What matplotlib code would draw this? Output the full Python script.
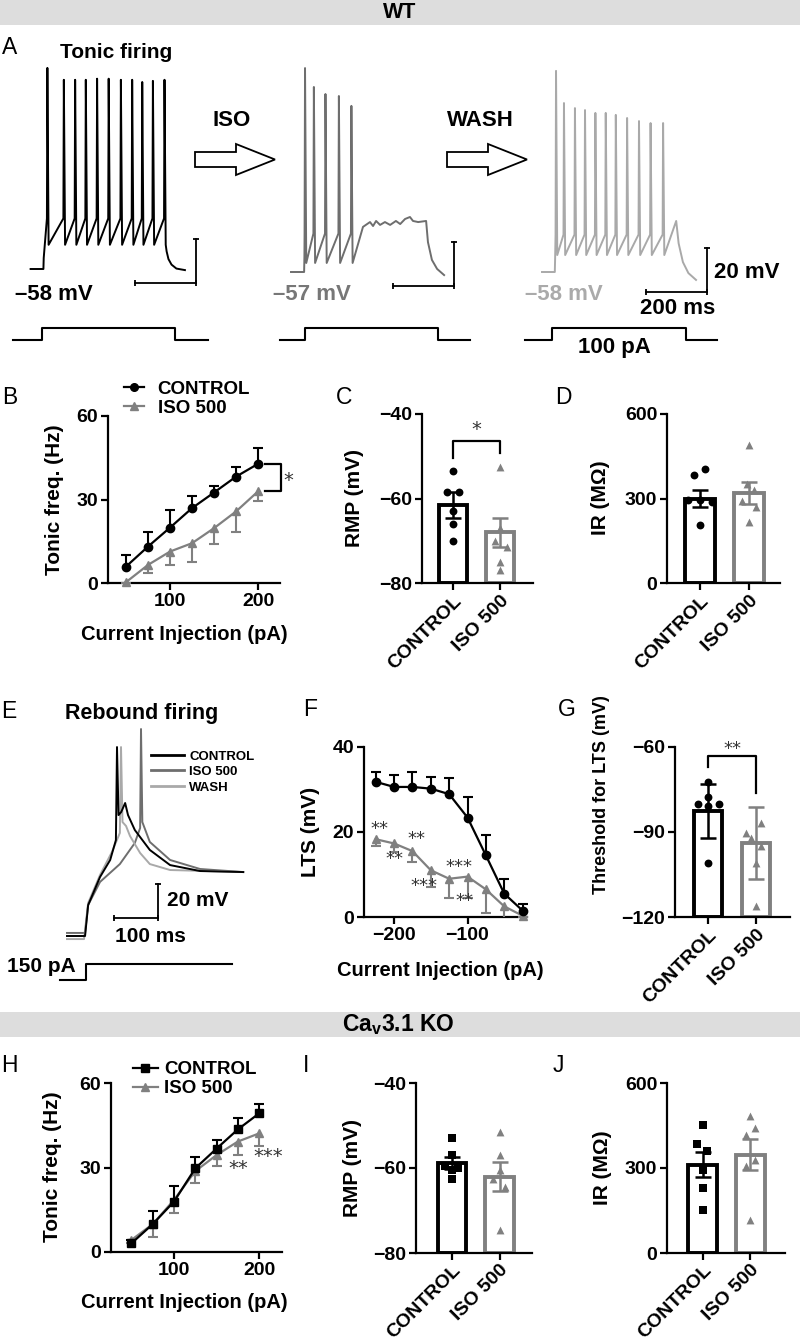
import matplotlib
matplotlib.use("Agg")
import matplotlib.pyplot as plt
import numpy as np
from matplotlib.lines import Line2D
from matplotlib.patches import FancyArrow, Rectangle

W, H = 800, 1340
BLACK = '#000000'
GRAY = '#808080'
TRACE_ISO = '#6e6e6e'
TRACE_WASH = '#a9a9a9'
STAR = '#333333'

plt.rcParams['font.family'] = ['Liberation Sans', 'DejaVu Sans']
plt.rcParams['font.weight'] = 'bold'
plt.rcParams['axes.linewidth'] = 1.6

# ---------------- A: tonic firing traces (ms / mV) ----------------
a_ctrl_spike_t = [55, 109, 146, 181, 218, 256, 296, 333, 366, 401, 439]
a_ctrl_spike_v = [33.4, 28, 28, 28, 28.5, 28.5, 28, 28, 27, 27.5, 28]
a_ctrl_tail_t = [446, 452, 462, 478, 506]
a_ctrl_tail_v = [-50, -53.5, -56, -57.8, -58.5]

a_iso_spike_t = [46, 75, 113, 157, 198]
a_iso_spike_v = [35.7, 27.1, 23.9, 23.0, 18.5]
a_iso_tail_t = [236, 259, 269, 279, 292, 308, 325, 344, 358, 374, 390, 400, 417, 443,
                449, 462, 479, 502]
a_iso_tail_v = [-36.5, -34.3, -36.1, -33.8, -35.6, -34.3, -35.6, -33.8, -35.2, -32.9,
                -32.0, -33.8, -34.3, -33.8, -43.4, -51.5, -55.6, -58.4]

a_wash_spike_t = [46, 72, 108, 141, 175, 209, 242, 279, 318, 356, 397]
a_wash_spike_v = [33.4, 18.8, 16.5, 15.6, 14.3, 14.3, 13.4, 12.0, 10.6, 9.7, 9.7]
a_wash_tail_t = [440, 448, 462, 480, 505]
a_wash_tail_v = [-34.8, -45, -53.5, -58.5, -61.6]

a_ctrl_step_t = [-58, 36, 474, 582]
a_iso_step_t = [-36, 46, 482, 587]
a_wash_step_t = [-56, 33, 472, 574]
a_step_pA = 100

# ---------------- B: WT tonic frequency ----------------
b_current = [50, 75, 100, 125, 150, 175, 200]
b_ctrl = [5.9, 13.1, 19.9, 26.9, 32.5, 38.2, 42.8]
b_ctrl_err = [4.0, 5.4, 6.4, 4.5, 2.5, 3.3, 5.7]
b_iso = [0.3, 6.5, 11.3, 14.3, 19.7, 25.7, 32.9]
b_iso_err = [0.3, 3.0, 5.0, 6.6, 5.7, 7.2, 3.6]

groups = ['CONTROL', 'ISO 500']

# ---------------- C: WT RMP ----------------
c_mean = [-61.5, -68.0]
c_sem = [3.0, 3.5]
c_ctrl_pts = [-53.5, -58.5, -58.5, -63, -66, -70]
c_iso_pts = [-52.5, -67, -70, -71.5, -75, -77]

# ---------------- D: WT IR ----------------
d_mean = [300, 320]
d_sem = [30, 40]
d_ctrl_pts = [383, 404, 295, 295, 289, 206]
d_iso_pts = [490, 352, 330, 290, 270, 218]

# ---------------- E: rebound firing traces (ms / mV) ----------------
e_ctrl_t = [0, 41, 48, 75, 98, 111, 113.5, 117, 123, 132, 138.5, 154, 188, 234, 302, 400]
e_ctrl_v = [-75, -75, -56.8, -40.3, -30.3, -18.6, 36.1, -3.9, -2.1, 3.2, -3.9, -12.7,
            -24.4, -33.3, -36.8, -37.4]
e_iso_t = [0, 41, 48, 75, 120, 154, 166, 168, 171, 188, 234, 302, 400]
e_iso_v = [-73.2, -73.2, -56.8, -43.2, -32.7, -20.3, -11.5, 46.7, -8, -19.7, -30.3, -35.6, -37.4]
e_wash_t = [0, 38.6, 48, 75, 102, 120, 122.6, 126, 134, 143, 166, 188, 234, 400]
e_wash_v = [-76.8, -76.8, -55.6, -39.1, -25.6, -14.4, 36.1, -8, -10.3, -16.2, -26.2,
            -32.7, -36.2, -37.4]
e_step_t = [-16, 43, 375]
e_step_pA = 150

# ---------------- F: LTS amplitude ----------------
f_current = [-225, -200, -175, -150, -125, -100, -75, -50, -25]
f_ctrl = [31.8, 30.6, 30.6, 30.2, 28.9, 23.4, 14.5, 5.5, 1.5]
f_ctrl_err = [2.3, 2.8, 3.5, 2.8, 3.7, 4.9, 4.8, 3.5, 1.5]
f_iso = [18.3, 17.3, 15.5, 11.0, 9.0, 9.5, 6.5, 2.5, 0.3]
f_iso_err = [1.5, 2.0, 2.5, 4.0, 4.5, 5.0, 5.5, 3.5, 0.3]
f_sig_x = [-220, -170, -200, -111, -160, -104]
f_sig_y = [20.6, 18.3, 13.6, 11.7, 7.2, 3.7]
f_sig_txt = ['**', '**', '**', '***', '***', '**']

# ---------------- G: LTS threshold ----------------
g_mean = [-82.5, -94.0]
g_sem = [9.5, 12.7]
g_ctrl_pts = [-72.5, -77.5, -80.2, -81, -80.2, -101]
g_iso_pts = [-86.8, -90.4, -92, -95, -101, -116]

# ---------------- H: KO tonic frequency ----------------
h_current = [50, 75, 100, 125, 150, 175, 200]
h_ctrl = [3.1, 9.9, 17.9, 29.7, 36.7, 43.5, 49.2]
h_ctrl_err = [1.0, 4.8, 5.5, 4.1, 3.1, 4.0, 3.3]
h_iso = [4.3, 9.9, 18.5, 28.7, 34.4, 39.2, 42.1]
h_iso_err = [1.0, 4.7, 4.8, 4.1, 3.8, 4.8, 4.4]

# ---------------- I: KO RMP ----------------
i_mean = [-58.8, -62.0]
i_sem = [1.5, 3.3]
i_ctrl_pts = [-53, -57, -59.5, -60, -60.5, -62.5]
i_iso_pts = [-51.5, -57, -60.5, -62.5, -64.5, -74.5]

# ---------------- J: KO IR ----------------
j_mean = [312, 347]
j_sem = [45, 55]
j_ctrl_pts = [453, 386, 359, 294, 229, 153]
j_iso_pts = [482, 441, 418, 329, 308, 115]


fig = plt.figure(figsize=(W / 100, H / 100), dpi=100)
lay = fig.add_axes([0, 0, 1, 1])
lay.set_xlim(0, W)
lay.set_ylim(H, 0)
lay.axis('off')


def px_axes(left, top, right, bottom):
    ax = fig.add_axes([left / W, 1 - bottom / H, (right - left) / W, (bottom - top) / H])
    ax.set_facecolor('none')
    return ax


def mapped_axes(left, top, right, bottom, x0, y0, t0, v0, t_per_px, v_per_px):
    ax = px_axes(left, top, right, bottom)
    ax.set_xlim(t0 + (left - x0) * t_per_px, t0 + (right - x0) * t_per_px)
    ax.set_ylim(v0 - (bottom - y0) * v_per_px, v0 + (y0 - top) * v_per_px)
    ax.axis('off')
    return ax


def txt(x, y, s, size=15, ha='left', color='k', weight='bold', rot=0, **kw):
    lay.text(x, y, s, fontsize=size, ha=ha, va='center', color=color,
             fontweight=weight, rotation=rot, **kw)


def stars(ax, x, y, s, size=14):
    ax.text(x, y, s, fontsize=size, fontweight='normal', family='DejaVu Sans',
            ha='center', va='center', color=STAR, clip_on=False)


def spike_trace(rest, t_on, v_on, spike_t, spike_v, thresh, trough, tail_t, tail_v):
    t = [0.0, t_on, t_on + 1.0]
    v = [rest, rest, v_on]
    for ts, vp in zip(spike_t, spike_v):
        t += [ts - 1.5, ts, ts + 4.0]
        v += [thresh, vp, trough]
    return t + list(tail_t), v + list(tail_v)


def scale_bar(ax, t_end, v_bot, dt, dv, lw=1.3):
    ax.plot([t_end - dt, t_end], [v_bot, v_bot], color='k', lw=lw, marker='|', ms=5, mew=lw)
    ax.plot([t_end, t_end], [v_bot, v_bot + dv], color='k', lw=lw)
    ax.plot([t_end], [v_bot + dv], color='k', marker='_', ms=5, mew=lw)


def step(ax, st, amp, color='k'):
    ax.plot([st[0], st[1], st[1], st[2], st[2], st[3]], [0, 0, amp, amp, 0, 0],
            color=color, lw=1.5)


def style_axes(ax):
    for s in ['top', 'right']:
        ax.spines[s].set_visible(False)
    ax.tick_params(width=1.6, length=5, labelsize=14, pad=2)


# ---------------- headers ----------------
lay.add_patch(Rectangle((0, 0), W, 25, color='#dddddd', lw=0))
lay.add_patch(Rectangle((0, 1012), W, 25, color='#dddddd', lw=0))
txt(400, 13, 'WT', size=15.5, ha='center')
txt(398, 1025, r'Ca$_\mathregular{v}$3.1 KO', size=16.5, ha='center')

# panel letters
for lx, ly, lt in [(2, 47, 'A'), (2, 397, 'B'), (336, 397, 'C'), (555, 397, 'D'),
                   (1, 711, 'E'), (303, 710, 'F'), (558, 710, 'G'),
                   (1, 1065, 'H'), (303, 1065, 'I'), (553, 1065, 'J')]:
    txt(lx, ly, lt, size=16.5, weight='normal')

# ---------------- A ----------------
MS_PX = 200 / 61
MV_PX = 20 / 44
ax_a1 = mapped_axes(10, 55, 215, 300, 30.6, 269, 0, -58, MS_PX, MV_PX)
t, v = spike_trace(-58, 42, -53, a_ctrl_spike_t, a_ctrl_spike_v, -35, -47,
                   a_ctrl_tail_t, a_ctrl_tail_v)
ax_a1.plot(t, v, color=BLACK, lw=1.4)
scale_bar(ax_a1, 542.5, -64.4, 200, 20)

ax_a2 = mapped_axes(270, 55, 470, 300, 291, 272, 0, -57, MS_PX, MV_PX)
t, v = spike_trace(-57, 43, -50, a_iso_spike_t, a_iso_spike_v, -39.5, -52.9,
                   a_iso_tail_t, a_iso_tail_v)
ax_a2.plot(t, v, color=TRACE_ISO, lw=1.4)
scale_bar(ax_a2, 535, -63.4, 200, 20)

ax_a3 = mapped_axes(520, 55, 720, 300, 542, 272, 0, -58, MS_PX, MV_PX)
t, v = spike_trace(-58, 42, -52, a_wash_spike_t, a_wash_spike_v, -41, -50.3,
                   a_wash_tail_t, a_wash_tail_v)
ax_a3.plot(t, v, color=TRACE_WASH, lw=1.4)
scale_bar(ax_a3, 541, -67.1, 200, 20)

for x0, st in [(30.6, a_ctrl_step_t), (291, a_iso_step_t), (542, a_wash_step_t)]:
    ax_s = mapped_axes(x0 - 30, 318, x0 + 185, 345, x0, 340, 0, 0, MS_PX, a_step_pA / 12)
    step(ax_s, st, a_step_pA)

lay.add_patch(FancyArrow(195, 159.5, 80, 0, width=15, head_width=31, head_length=39,
                         length_includes_head=True, fc='white', ec='k', lw=1.3))
lay.add_patch(FancyArrow(447, 159.5, 80, 0, width=15, head_width=31, head_length=39,
                         length_includes_head=True, fc='white', ec='k', lw=1.3))
txt(60, 52, 'Tonic firing', size=15)
txt(232, 121, 'ISO', size=16, ha='center')
txt(480, 120, 'WASH', size=16, ha='center')
txt(15, 295, '\u201358 mV', size=16)
txt(273, 295, '\u201357 mV', size=16, color='#777777')
txt(525, 295, '\u201358 mV', size=16, color='#aaaaaa')
txt(714, 272, '20 mV', size=16)
txt(640, 308, '200 ms', size=16)
txt(614, 347, '100 pA', size=16, ha='center')


# ---------------- line panels ----------------
def line_panel(ax, x, yc, ec, yi, ei, ctrl_marker):
    ax.plot(x, yc, color=BLACK, marker=ctrl_marker, ms=6, lw=1.6, zorder=4, clip_on=False)
    ax.plot(x, yi, color=GRAY, marker='^', ms=6, lw=1.6, zorder=3, clip_on=False)
    z = np.zeros(len(x))
    eb = ax.errorbar(x, yc, yerr=[z, ec], fmt='none', ecolor=BLACK, elinewidth=1.5,
                     capsize=3.5, capthick=1.5, zorder=4)
    eb[1][0].set_visible(False)
    eb = ax.errorbar(x, yi, yerr=[ei, z], fmt='none', ecolor=GRAY, elinewidth=1.5,
                     capsize=3.5, capthick=1.5, zorder=3)
    eb[1][1].set_visible(False)
    style_axes(ax)


def line_legend(ax, cx, cy, ctrl_marker, hl, pad):
    handles = [Line2D([], [], color=BLACK, marker=ctrl_marker, ms=5.5, lw=1.6),
               Line2D([], [], color=GRAY, marker='^', ms=5.5, lw=1.6)]
    ax.legend(handles, groups, loc='center left', bbox_to_anchor=(cx / W, 1 - cy / H),
              bbox_transform=fig.transFigure, frameon=False, prop={'size': 13.5, 'weight': 'bold'},
              handlelength=hl, handletextpad=pad, labelspacing=0.1, borderpad=0,
              borderaxespad=0)


ax_b = px_axes(108, 416, 280, 583)
line_panel(ax_b, b_current, b_ctrl, b_ctrl_err, b_iso, b_iso_err, 'o')
ax_b.set_xlim(29.5, 225)
ax_b.set_ylim(0, 60)
ax_b.set_xticks([100, 200])
ax_b.set_yticks([0, 30, 60])
line_legend(ax_b, 124, 398.5, 'o', 1.05, 0.75)
ax_b.plot([208, 226, 226, 208], [b_ctrl[-1], b_ctrl[-1], b_iso[-1], b_iso[-1]],
          color='k', lw=1.6, clip_on=False)
stars(ax_b, 234, 37.0, '*')
txt(55, 499.5, 'Tonic freq. (Hz)', size=15, ha='center', rot=90)
txt(184, 635, 'Current Injection (pA)', size=14.5, ha='center')

ax_f = px_axes(364, 747, 527, 917)
line_panel(ax_f, f_current, f_ctrl, f_ctrl_err, f_iso, f_iso_err, 'o')
ax_f.set_xlim(-241, -19)
ax_f.set_ylim(0, 40)
ax_f.set_xticks([-200, -100])
ax_f.set_yticks([0, 20, 40])
for sx, sy, st in zip(f_sig_x, f_sig_y, f_sig_txt):
    stars(ax_f, sx, sy, st, size=13)
txt(310, 832, 'LTS (mV)', size=15, ha='center', rot=90)
txt(440, 970, 'Current Injection (pA)', size=14.5, ha='center')

ax_h = px_axes(111, 1083, 282, 1252)
line_panel(ax_h, h_current, h_ctrl, h_ctrl_err, h_iso, h_iso_err, 's')
ax_h.set_xlim(25.9, 227)
ax_h.set_ylim(0, 60)
ax_h.set_xticks([100, 200])
ax_h.set_yticks([0, 30, 60])
line_legend(ax_h, 133, 1079, 's', 1.33, 0.35)
stars(ax_h, 175, 29.5, '**')
stars(ax_h, 211, 33.8, '***')
txt(53, 1167, 'Tonic freq. (Hz)', size=15, ha='center', rot=90)
txt(184, 1303, 'Current Injection (pA)', size=14.5, ha='center')


# ---------------- bar panels ----------------
def bar_panel(ax, floor, means, sems, pts, offs, marker, label_size=13.5):
    colors = [BLACK, GRAY]
    markers = [marker, '^']
    for i in range(2):
        ax.bar(i, means[i] - floor, bottom=floor, width=0.6, facecolor='white',
               edgecolor=colors[i], linewidth=2.8, zorder=2)
        ax.scatter(np.array(offs[i]) + i, pts[i], marker=markers[i], s=32,
                   color=colors[i], linewidths=0, zorder=4, clip_on=False)
        ax.errorbar(i, means[i], yerr=sems[i], fmt='none', ecolor=colors[i],
                    elinewidth=1.8, capsize=6, capthick=1.8, zorder=5)
    ax.set_xticks([0, 1])
    ax.set_xticklabels(groups, rotation=45, ha='right', rotation_mode='anchor',
                       fontsize=label_size)
    style_axes(ax)


ax_c = px_axes(422, 414, 533, 583)
bar_panel(ax_c, -80, c_mean, c_sem, [c_ctrl_pts, c_iso_pts],
          [[0, -0.12, 0.12, 0, 0, 0], [0, 0, -0.1, 0.15, 0, 0]], 'o')
ax_c.set_xlim(-0.66, 1.70)
ax_c.set_ylim(-80, -40)
ax_c.set_yticks([-80, -60, -40])
ax_c.plot([0, 0, 1, 1], [-50.4, -46.4, -46.4, -49.2], color='k', lw=1.6)
stars(ax_c, 0.5, -43.6, '*')
txt(355, 498, 'RMP (mV)', size=15, ha='center', rot=90)

ax_d = px_axes(667, 414, 780, 583)
bar_panel(ax_d, 0, d_mean, d_sem, [d_ctrl_pts, d_iso_pts],
          [[-0.12, 0.1, -0.25, 0, 0.25, 0], [0, -0.05, 0.1, -0.15, 0.15, 0]], 'o')
ax_d.set_xlim(-0.67, 1.63)
ax_d.set_ylim(0, 600)
ax_d.set_yticks([0, 300, 600])
txt(601, 498, 'IR (M\u03a9)', size=15, ha='center', rot=90)

ax_g = px_axes(675, 747, 790, 917)
bar_panel(ax_g, -120, g_mean, g_sem, [g_ctrl_pts, g_iso_pts],
          [[0, 0, -0.22, 0, 0.22, 0], [0.1, -0.2, -0.1, 0.1, 0, 0]], 'o')
ax_g.set_xlim(-0.69, 1.71)
ax_g.set_ylim(-120, -60)
ax_g.set_yticks([-120, -90, -60])
ax_g.plot([0, 0, 1, 1], [-67, -63.2, -63.2, -76.1], color='k', lw=1.6)
stars(ax_g, 0.5, -60.6, '**', size=13)
txt(601, 795, 'Threshold for LTS (mV)', size=13, ha='center', rot=90)

ax_i = px_axes(416, 1083, 532, 1253)
bar_panel(ax_i, -80, i_mean, i_sem, [i_ctrl_pts, i_iso_pts],
          [[0, 0, -0.15, 0.12, 0, 0], [0, 0, 0, -0.15, 0.12, 0]], 's', label_size=12.5)
ax_i.set_xlim(-0.76, 1.68)
ax_i.set_ylim(-80, -40)
ax_i.set_yticks([-80, -60, -40])
ax_i.tick_params(axis='x', pad=1)
txt(352, 1168, 'RMP (mV)', size=15, ha='center', rot=90)

ax_j = px_axes(667, 1083, 785, 1253)
bar_panel(ax_j, 0, j_mean, j_sem, [j_ctrl_pts, j_iso_pts],
          [[0, -0.12, 0.09, 0, 0, 0], [0, 0.1, -0.1, 0.1, -0.1, 0]], 's', label_size=12.5)
ax_j.set_xlim(-0.75, 1.73)
ax_j.set_ylim(0, 600)
ax_j.set_yticks([0, 300, 600])
ax_j.tick_params(axis='x', pad=1)
txt(602, 1168, 'IR (M\u03a9)', size=15, ha='center', rot=90)

# ---------------- E ----------------
ax_e = mapped_axes(55, 700, 250, 950, 67, 936, 0, -75, 2.27, 0.588)
ax_e.plot(e_iso_t, e_iso_v, color=TRACE_ISO, lw=1.4)
ax_e.plot(e_wash_t, e_wash_v, color=TRACE_WASH, lw=1.4)
ax_e.plot(e_ctrl_t, e_ctrl_v, color=BLACK, lw=1.4)
scale_bar(ax_e, 206.6, -64.4, 100, 20)
ax_e.legend([Line2D([], [], color=BLACK, lw=2), Line2D([], [], color=TRACE_ISO, lw=2),
             Line2D([], [], color=TRACE_WASH, lw=2)],
            ['CONTROL', 'ISO 500', 'WASH'], loc='center left',
            bbox_to_anchor=(151 / W, 1 - 772 / H), bbox_transform=fig.transFigure,
            frameon=False, prop={'size': 9.5, 'weight': 'bold'}, handlelength=2.5,
            handletextpad=0.4, labelspacing=0.25, borderpad=0, borderaxespad=0)
ax_es = mapped_axes(55, 955, 250, 985, 67, 980, 0, 0, 2.27, e_step_pA / 16)
ax_es.plot([e_step_t[0], e_step_t[1], e_step_t[1], e_step_t[2]], [0, 0, e_step_pA, e_step_pA],
           color='k', lw=1.5)
txt(65, 714, 'Rebound firing', size=15.5)
txt(167, 901, '20 mV', size=15)
txt(115, 937, '100 ms', size=15)
txt(7, 966, '150 pA', size=15)

fig.savefig('out.png', dpi=100)
